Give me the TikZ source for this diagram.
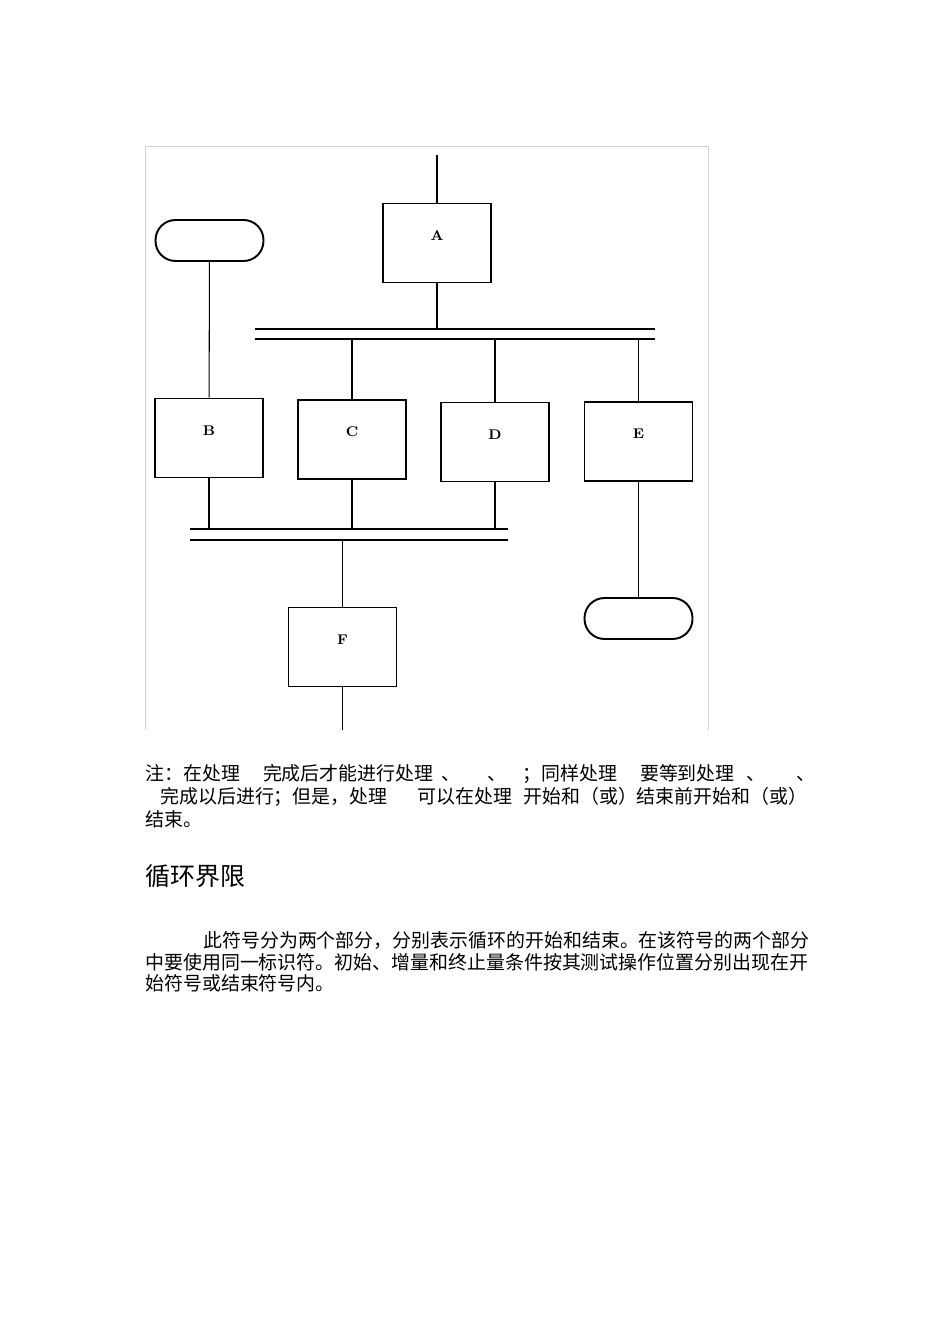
\documentclass[tikz,border=0pt]{standalone}
\usepackage{fontspec}
\newfontfamily\cjk{Noto Sans CJK SC}
\usetikzlibrary{positioning}
\newlength\pxu
\setlength\pxu{0.02cm}

\begin{document}
\begin{tikzpicture}[
    x=0.02cm, y=-0.02cm,
    box/.style={draw, line width=1.1pt, minimum width=2.16cm, minimum height=1.58cm,
                inner sep=0pt, font=\bfseries\fontsize{8}{9}\selectfont,
                text height=5pt, text depth=8pt},
    term/.style={draw, line width=1.1pt, rounded corners=0.4cm,
                 minimum width=2.16cm, minimum height=0.82cm, inner sep=0pt},
    conn/.style={line width=0.6pt},
    txt/.style={anchor=west, inner sep=0pt, font=\cjk\fontsize{10.78}{13}\selectfont}
]
    \useasboundingbox (0,0) rectangle (950,1344);

    % Frame
    \draw[gray!35, line width=0.5pt] (145,730) -- (145,146) -- (708,146) -- (708,730);

    % Nodes
    \node[box] (A) at (437,243) {A};
    \node[term] (T1) at (209.5,240.5) {};
    \node[box] (B) at (209,438) {B};
    \node[box] (C) at (352,439.5) {C};
    \node[box] (D) at (495,442) {D};
    \node[box] (E) at (638.5,441.5) {E};
    \node[box] (F) at (342.5,647) {F};
    \node[term] (T2) at (638.5,618.5) {};

    % Parallel bars
    \coordinate (s1l) at (255,329); \coordinate (s1r) at (655,329);
    \coordinate (s2l) at (255,339); \coordinate (s2r) at (655,339);
    \coordinate (t1l) at (190,529); \coordinate (t1r) at (508,529);
    \coordinate (t2l) at (190,540); \coordinate (t2r) at (508,540);
    \draw[line width=0.8pt] (s1l) -- (s1r);
    \draw[line width=1.2pt] (s2l) -- (s2r);
    \draw[line width=0.8pt] (t1l) -- (t1r);
    \draw[line width=1.5pt] (t2l) -- (t2r);

    % Connectors
    \coordinate (in) at (437,155);
    \coordinate (out) at (342.5,730);
    \draw[conn] (in) -- (A);
    \draw[conn] (A) -- (A |- s1l);
    \draw[conn] (C |- s2l) -- (C);
    \draw[conn] (D |- s2l) -- (D);
    \draw[conn] (E |- s2l) -- (E);
    \draw[conn] (T1) -- (B);
    \draw[conn] (B) -- (B |- t1l);
    \draw[conn] (C) -- (C |- t1l);
    \draw[conn] (D) -- (D |- t1l);
    \draw[conn] (F |- t2l) -- (F);
    \draw[conn] (F) -- (out);
    \draw[conn, line width=0.8pt] (E) -- (T2);

    % Text
    \node[txt] (note1) at (145,774) {注：在处理\hspace{23\pxu}完成后才能进行处理\hspace{8\pxu}、\hspace{27\pxu}、\hspace{16\pxu}；同样处理\hspace{23\pxu}要等到处理\hspace{12\pxu}、\hspace{31\pxu}、};
    \node[txt] (note2) at (160,797) {完成以后进行；但是，处理\hspace{30\pxu}可以在处理\hspace{11\pxu}开始和（或）结束前开始和（或）};
    \node[txt] (note3) at (145,819) {结束。};
    \node[txt, font=\cjk\fontsize{14.2}{17}\selectfont] (title) at (145,876) {循环界限};
    \node[txt] (para1) at (203,941) {此符号分为两个部分，分别表示循环的开始和结束。在该符号的两个部分};
    \node[txt] (para2) at (145,962) {中要使用同一标识符。初始、增量和终止量条件按其测试操作位置分别出现在开};
    \node[txt] (para3) at (145,983) {始符号或结束符号内。};
\end{tikzpicture}
\end{document}
